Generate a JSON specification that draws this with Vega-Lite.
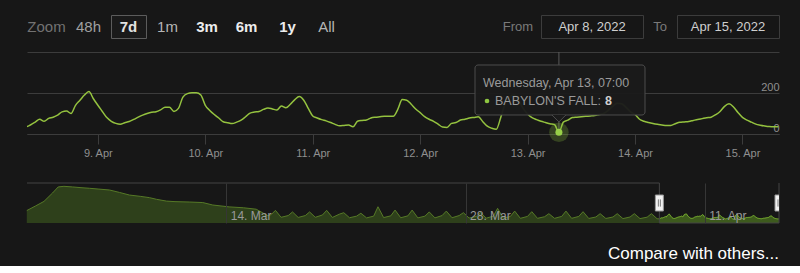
{
  "$schema": "https://vega.github.io/schema/vega-lite/v6.json",
  "background": "#171717",
  "padding": {"left": 24, "top": 14, "right": 24, "bottom": 4},
  "bounds": "flush",
  "spacing": 0,
  "config": {"font": "Liberation Sans", "view": {"stroke": null}},
  "datasets": {
    "hover": [{"t": "2022-04-13T07:00", "players": 8, "label": "BABYLON'S FALL:"}],
    "sel": [{"t": "2022-04-08T08:10"}],
    "handles": [{"t": "2022-04-08T08:10"}, {"t": "2022-04-15T08:10"}],
    "blank": [{"label": ""}],
    "players": [
      {"t":"2022-03-02T08:00","players":325},{"t":"2022-03-02T20:00","players":480},{"t":"2022-03-03T08:00","players":640},{"t":"2022-03-03T20:00","players":930},{"t":"2022-03-04T04:00","players":1140},{"t":"2022-03-04T12:00","players":1161},{"t":"2022-03-05T00:00","players":1140},{"t":"2022-03-05T12:00","players":1115},{"t":"2022-03-06T00:00","players":1093},{"t":"2022-03-06T12:00","players":1068},{"t":"2022-03-07T04:00","players":1034},{"t":"2022-03-07T18:00","players":950},{"t":"2022-03-08T08:00","players":860},{"t":"2022-03-09T00:00","players":812},{"t":"2022-03-09T12:00","players":770},{"t":"2022-03-09T22:00","players":712},{"t":"2022-03-10T12:00","players":650},{"t":"2022-03-11T00:00","players":632},{"t":"2022-03-11T20:00","players":619},{"t":"2022-03-12T15:00","players":600},{"t":"2022-03-13T05:00","players":515},{"t":"2022-03-14T04:00","players":450},{"t":"2022-03-15T00:00","players":420},{"t":"2022-03-15T18:00","players":370},{"t":"2022-03-16T10:00","players":150},{"t":"2022-03-16T15:00","players":180},{"t":"2022-03-16T21:00","players":330},
      {"t":"2022-03-17T05:00","players":90},{"t":"2022-03-17T15:00","players":150},{"t":"2022-03-17T21:00","players":275},
      {"t":"2022-03-18T05:00","players":85},{"t":"2022-03-18T15:00","players":150},{"t":"2022-03-18T21:00","players":275},
      {"t":"2022-03-19T05:00","players":90},{"t":"2022-03-19T15:00","players":170},{"t":"2022-03-19T21:00","players":330},
      {"t":"2022-03-20T05:00","players":85},{"t":"2022-03-20T15:00","players":200},{"t":"2022-03-20T21:00","players":250},
      {"t":"2022-03-21T05:00","players":75},{"t":"2022-03-21T15:00","players":130},{"t":"2022-03-21T21:00","players":230},
      {"t":"2022-03-22T05:00","players":70},{"t":"2022-03-22T15:00","players":130},{"t":"2022-03-22T21:00","players":455},
      {"t":"2022-03-23T05:00","players":80},{"t":"2022-03-23T15:00","players":140},{"t":"2022-03-23T21:00","players":340},
      {"t":"2022-03-24T05:00","players":75},{"t":"2022-03-24T15:00","players":140},{"t":"2022-03-24T21:00","players":340},
      {"t":"2022-03-25T05:00","players":70},{"t":"2022-03-25T15:00","players":130},{"t":"2022-03-25T21:00","players":275},
      {"t":"2022-03-26T05:00","players":70},{"t":"2022-03-26T15:00","players":150},{"t":"2022-03-26T21:00","players":305},
      {"t":"2022-03-27T05:00","players":75},{"t":"2022-03-27T15:00","players":150},{"t":"2022-03-27T21:00","players":250},
      {"t":"2022-03-28T05:00","players":65},{"t":"2022-03-28T15:00","players":120},{"t":"2022-03-28T21:00","players":260},
      {"t":"2022-03-29T05:00","players":60},{"t":"2022-03-29T15:00","players":130},{"t":"2022-03-29T21:00","players":400},
      {"t":"2022-03-30T05:00","players":60},{"t":"2022-03-30T15:00","players":120},{"t":"2022-03-30T21:00","players":305},
      {"t":"2022-03-31T05:00","players":55},{"t":"2022-03-31T15:00","players":120},{"t":"2022-03-31T21:00","players":285},
      {"t":"2022-04-01T05:00","players":55},{"t":"2022-04-01T15:00","players":110},{"t":"2022-04-01T21:00","players":215},
      {"t":"2022-04-02T05:00","players":55},{"t":"2022-04-02T15:00","players":120},{"t":"2022-04-02T21:00","players":305},
      {"t":"2022-04-03T05:00","players":55},{"t":"2022-04-03T15:00","players":120},{"t":"2022-04-03T21:00","players":285},
      {"t":"2022-04-04T05:00","players":50},{"t":"2022-04-04T15:00","players":100},{"t":"2022-04-04T21:00","players":215},
      {"t":"2022-04-05T05:00","players":50},{"t":"2022-04-05T15:00","players":100},{"t":"2022-04-05T21:00","players":215},
      {"t":"2022-04-06T05:00","players":45},{"t":"2022-04-06T15:00","players":100},{"t":"2022-04-06T21:00","players":215},
      {"t":"2022-04-07T05:00","players":45},{"t":"2022-04-07T15:00","players":95},{"t":"2022-04-07T21:00","players":215},
      {"t":"2022-04-08T05:00","players":40},
      {"t":"2022-04-08T08:00","players":36},{"t":"2022-04-08T09:00","players":45},{"t":"2022-04-08T10:00","players":58},{"t":"2022-04-08T11:00","players":72},{"t":"2022-04-08T12:00","players":62},{"t":"2022-04-08T13:00","players":76},{"t":"2022-04-08T14:00","players":82},{"t":"2022-04-08T15:00","players":92},{"t":"2022-04-08T16:00","players":108},{"t":"2022-04-08T17:00","players":112},{"t":"2022-04-08T18:00","players":100},{"t":"2022-04-08T19:00","players":140},{"t":"2022-04-08T20:00","players":165},{"t":"2022-04-08T21:00","players":190},{"t":"2022-04-08T22:00","players":207},{"t":"2022-04-08T23:00","players":172},
      {"t":"2022-04-09T00:00","players":140},{"t":"2022-04-09T01:00","players":110},{"t":"2022-04-09T02:00","players":80},{"t":"2022-04-09T03:00","players":62},{"t":"2022-04-09T04:00","players":52},{"t":"2022-04-09T05:00","players":48},{"t":"2022-04-09T06:00","players":55},{"t":"2022-04-09T07:00","players":61},{"t":"2022-04-09T08:00","players":71},{"t":"2022-04-09T09:00","players":82},{"t":"2022-04-09T10:00","players":92},{"t":"2022-04-09T11:00","players":100},{"t":"2022-04-09T12:00","players":106},{"t":"2022-04-09T13:00","players":109},{"t":"2022-04-09T14:00","players":118},{"t":"2022-04-09T15:00","players":130},{"t":"2022-04-09T16:00","players":130},{"t":"2022-04-09T17:00","players":110},{"t":"2022-04-09T18:00","players":125},{"t":"2022-04-09T19:00","players":180},{"t":"2022-04-09T20:00","players":197},{"t":"2022-04-09T21:00","players":201},{"t":"2022-04-09T22:00","players":201},{"t":"2022-04-09T23:00","players":190},
      {"t":"2022-04-10T00:00","players":140},{"t":"2022-04-10T01:00","players":115},{"t":"2022-04-10T02:00","players":95},{"t":"2022-04-10T03:00","players":78},{"t":"2022-04-10T04:00","players":60},{"t":"2022-04-10T05:00","players":55},{"t":"2022-04-10T06:00","players":51},{"t":"2022-04-10T07:00","players":58},{"t":"2022-04-10T08:00","players":68},{"t":"2022-04-10T09:00","players":84},{"t":"2022-04-10T10:00","players":102},{"t":"2022-04-10T11:00","players":107},{"t":"2022-04-10T12:00","players":110},{"t":"2022-04-10T13:00","players":120},{"t":"2022-04-10T14:00","players":127},{"t":"2022-04-10T15:00","players":122},{"t":"2022-04-10T16:00","players":117},{"t":"2022-04-10T17:00","players":137},{"t":"2022-04-10T18:00","players":128},{"t":"2022-04-10T19:00","players":145},{"t":"2022-04-10T20:00","players":168},{"t":"2022-04-10T21:00","players":183},{"t":"2022-04-10T22:00","players":165},{"t":"2022-04-10T23:00","players":125},
      {"t":"2022-04-11T00:00","players":88},{"t":"2022-04-11T01:00","players":78},{"t":"2022-04-11T02:00","players":70},{"t":"2022-04-11T03:00","players":64},{"t":"2022-04-11T04:00","players":56},{"t":"2022-04-11T05:00","players":47},{"t":"2022-04-11T06:00","players":40},{"t":"2022-04-11T07:00","players":42},{"t":"2022-04-11T08:00","players":44},{"t":"2022-04-11T09:00","players":35},{"t":"2022-04-11T10:00","players":62},{"t":"2022-04-11T11:00","players":66},{"t":"2022-04-11T12:00","players":68},{"t":"2022-04-11T13:00","players":78},{"t":"2022-04-11T14:00","players":82},{"t":"2022-04-11T15:00","players":84},{"t":"2022-04-11T16:00","players":86},{"t":"2022-04-11T17:00","players":86},{"t":"2022-04-11T18:00","players":86},{"t":"2022-04-11T19:00","players":120},{"t":"2022-04-11T20:00","players":168},{"t":"2022-04-11T21:00","players":165},{"t":"2022-04-11T22:00","players":145},{"t":"2022-04-11T23:00","players":122},
      {"t":"2022-04-12T00:00","players":104},{"t":"2022-04-12T01:00","players":85},{"t":"2022-04-12T02:00","players":72},{"t":"2022-04-12T03:00","players":62},{"t":"2022-04-12T04:00","players":48},{"t":"2022-04-12T05:00","players":34},{"t":"2022-04-12T06:00","players":32},{"t":"2022-04-12T07:00","players":52},{"t":"2022-04-12T08:00","players":56},{"t":"2022-04-12T09:00","players":68},{"t":"2022-04-12T10:00","players":72},{"t":"2022-04-12T11:00","players":78},{"t":"2022-04-12T12:00","players":81},{"t":"2022-04-12T13:00","players":84},{"t":"2022-04-12T14:00","players":60},{"t":"2022-04-12T15:00","players":38},{"t":"2022-04-12T16:00","players":28},{"t":"2022-04-12T17:00","players":23},{"t":"2022-04-12T18:00","players":80},{"t":"2022-04-12T19:00","players":150},{"t":"2022-04-12T20:00","players":180},{"t":"2022-04-12T21:00","players":190},{"t":"2022-04-12T22:00","players":165},{"t":"2022-04-12T23:00","players":125},
      {"t":"2022-04-13T00:00","players":98},{"t":"2022-04-13T01:00","players":80},{"t":"2022-04-13T02:00","players":70},{"t":"2022-04-13T03:00","players":62},{"t":"2022-04-13T04:00","players":56},{"t":"2022-04-13T05:00","players":50},{"t":"2022-04-13T06:00","players":46},{"t":"2022-04-13T07:00","players":8},{"t":"2022-04-13T08:00","players":58},{"t":"2022-04-13T09:00","players":68},{"t":"2022-04-13T10:00","players":80},{"t":"2022-04-13T11:00","players":82},{"t":"2022-04-13T12:00","players":84},{"t":"2022-04-13T13:00","players":86},{"t":"2022-04-13T14:00","players":88},{"t":"2022-04-13T15:00","players":90},{"t":"2022-04-13T16:00","players":95},{"t":"2022-04-13T17:00","players":100},{"t":"2022-04-13T18:00","players":115},{"t":"2022-04-13T19:00","players":135},{"t":"2022-04-13T20:00","players":150},{"t":"2022-04-13T21:00","players":148},{"t":"2022-04-13T22:00","players":130},{"t":"2022-04-13T23:00","players":108},
      {"t":"2022-04-14T00:00","players":95},{"t":"2022-04-14T01:00","players":72},{"t":"2022-04-14T02:00","players":62},{"t":"2022-04-14T03:00","players":56},{"t":"2022-04-14T04:00","players":51},{"t":"2022-04-14T05:00","players":47},{"t":"2022-04-14T06:00","players":44},{"t":"2022-04-14T07:00","players":41},{"t":"2022-04-14T08:00","players":42},{"t":"2022-04-14T09:00","players":50},{"t":"2022-04-14T10:00","players":57},{"t":"2022-04-14T11:00","players":59},{"t":"2022-04-14T12:00","players":61},{"t":"2022-04-14T13:00","players":66},{"t":"2022-04-14T14:00","players":71},{"t":"2022-04-14T15:00","players":75},{"t":"2022-04-14T16:00","players":79},{"t":"2022-04-14T17:00","players":82},{"t":"2022-04-14T18:00","players":94},{"t":"2022-04-14T19:00","players":110},{"t":"2022-04-14T20:00","players":135},{"t":"2022-04-14T21:00","players":147},{"t":"2022-04-14T22:00","players":132},{"t":"2022-04-14T23:00","players":105},
      {"t":"2022-04-15T00:00","players":81},{"t":"2022-04-15T01:00","players":68},{"t":"2022-04-15T02:00","players":58},{"t":"2022-04-15T03:00","players":48},{"t":"2022-04-15T04:00","players":43},{"t":"2022-04-15T05:00","players":39},{"t":"2022-04-15T06:00","players":36},{"t":"2022-04-15T07:00","players":35},{"t":"2022-04-15T08:00","players":35}
    ]
  },
  "vconcat": [
    {
      "bounds": "flush",
      "spacing": 0,
      "hconcat": [
        {"width": 39, "height": 23, "data": {"values": [{"label": "Zoom"}]}, "mark": {"type": "text", "fontSize": 15, "color": "#727272"}, "encoding": {"text": {"field": "label", "type": "nominal"}}},
        {"width": 45, "height": 23, "data": {"values": [{"label": "48h"}]}, "mark": {"type": "text", "fontSize": 15, "color": "#a0a0a0"}, "encoding": {"text": {"field": "label", "type": "nominal"}}},
        {"width": 35, "height": 23, "view": {"stroke": "#5c5c5c", "strokeWidth": 1, "fill": "#1a1a1a"}, "data": {"values": [{"label": "7d"}]}, "mark": {"type": "text", "fontSize": 15, "fontWeight": "bold", "color": "#e2e2e2"}, "encoding": {"text": {"field": "label", "type": "nominal"}}},
        {"width": 43, "height": 23, "data": {"values": [{"label": "1m"}]}, "mark": {"type": "text", "fontSize": 15, "color": "#b5b5b5"}, "encoding": {"text": {"field": "label", "type": "nominal"}}},
        {"width": 36, "height": 23, "data": {"values": [{"label": "3m"}]}, "mark": {"type": "text", "fontSize": 15, "fontWeight": "bold", "color": "#ececec"}, "encoding": {"text": {"field": "label", "type": "nominal"}}},
        {"width": 43, "height": 23, "data": {"values": [{"label": "6m"}]}, "mark": {"type": "text", "fontSize": 15, "fontWeight": "bold", "color": "#ececec"}, "encoding": {"text": {"field": "label", "type": "nominal"}}},
        {"width": 39, "height": 23, "data": {"values": [{"label": "1y"}]}, "mark": {"type": "text", "fontSize": 15, "fontWeight": "bold", "color": "#ececec"}, "encoding": {"text": {"field": "label", "type": "nominal"}}},
        {"width": 39, "height": 23, "data": {"values": [{"label": "All"}]}, "mark": {"type": "text", "fontSize": 15, "color": "#b5b5b5"}, "encoding": {"text": {"field": "label", "type": "nominal"}}},
        {"width": 149, "height": 23, "data": {"name": "blank"}, "mark": {"type": "text", "fontSize": 15}, "encoding": {"text": {"field": "label", "type": "nominal"}}},
        {"width": 46, "height": 23, "data": {"values": [{"label": "From"}]}, "mark": {"type": "text", "fontSize": 13, "color": "#7a7a7a"}, "encoding": {"text": {"field": "label", "type": "nominal"}}},
        {"width": 102, "height": 23, "view": {"stroke": "#3c3c3c", "strokeWidth": 1, "fill": "#161616"}, "data": {"values": [{"label": "Apr 8, 2022"}]}, "mark": {"type": "text", "fontSize": 13, "color": "#cfcfcf"}, "encoding": {"text": {"field": "label", "type": "nominal"}}},
        {"width": 34, "height": 23, "data": {"values": [{"label": "To"}]}, "mark": {"type": "text", "fontSize": 13, "color": "#7a7a7a"}, "encoding": {"text": {"field": "label", "type": "nominal"}}},
        {"width": 102, "height": 23, "view": {"stroke": "#3c3c3c", "strokeWidth": 1, "fill": "#161616"}, "data": {"values": [{"label": "Apr 15, 2022"}]}, "mark": {"type": "text", "fontSize": 13, "color": "#cfcfcf"}, "encoding": {"text": {"field": "label", "type": "nominal"}}}
      ]
    },
    {"width": 752, "height": 37, "data": {"name": "blank"}, "mark": {"type": "text"}, "encoding": {"text": {"field": "label", "type": "nominal"}}},
    {
      "width": 752,
      "height": 82,
      "encoding": {
        "x": {
          "field": "t", "type": "temporal",
          "scale": {"domain": [{"year": 2022, "month": "apr", "date": 8, "hours": 8, "minutes": 10}, {"year": 2022, "month": "apr", "date": 15, "hours": 8, "minutes": 10}]},
          "axis": {"title": null, "orient": "bottom", "format": "%-d. %b", "tickCount": {"interval": "day", "step": 1}, "labelColor": "#8f8f8f", "labelFontSize": 11, "labelPadding": 3, "tickColor": "#3c3c3c", "tickSize": 10, "domainColor": "#3c3c3c", "grid": false, "labelFlush": false, "labelOverlap": false}
        }
      },
      "layer": [
        {"data": {"name": "hover"}, "mark": {"type": "rule", "color": "#5a5a5a", "strokeWidth": 1}, "encoding": {}},
        {
          "data": {"name": "players"},
          "mark": {"type": "line", "color": "#94c23f", "strokeWidth": 1.5, "clip": true, "interpolate": "monotone"},
          "encoding": {
            "y": {"field": "players", "type": "quantitative", "scale": {"domain": [0, 400], "nice": false},
              "axis": {"title": null, "orient": "right", "values": [0, 200, 400], "grid": true, "gridColor": "#3c3c3c", "domain": false, "ticks": false, "tickSize": 0, "labelAlign": "right", "labelBaseline": "alphabetic", "labelPadding": 0, "labelOffset": -3, "labelColor": "#8f8f8f", "labelFontSize": 11, "labelFlush": false, "labelExpr": "datum.value == 400 ? '' : datum.label"}}
          }
        },
        {"data": {"name": "hover"}, "mark": {"type": "point", "filled": true, "size": 380, "color": "#8ec641", "opacity": 0.25}, "encoding": {"y": {"field": "players", "type": "quantitative", "scale": {"domain": [0, 400], "nice": false}, "axis": {"title": null}}}},
        {"data": {"name": "hover"}, "mark": {"type": "point", "filled": true, "size": 49, "color": "#98d048", "opacity": 1}, "encoding": {"y": {"field": "players", "type": "quantitative", "scale": {"domain": [0, 400], "nice": false}, "axis": {"title": null}}}},
        {
          "data": {"name": "hover"},
          "mark": {"type": "rect", "fill": "#1b1b1b", "fillOpacity": 0.96, "stroke": "#4d4d4d", "strokeWidth": 1, "cornerRadius": 3},
          "encoding": {
            "x": {"datum": {"year": 2022, "month": "apr", "date": 12, "hours": 12, "minutes": 15}, "type": "temporal"},
            "x2": {"datum": {"year": 2022, "month": "apr", "date": 14, "hours": 2, "minutes": 14}},
            "y": {"datum": 336.6, "type": "quantitative"},
            "y2": {"datum": 92.7}
          }
        },
        {
          "data": {"name": "hover"},
          "mark": {"type": "point", "shape": "M-1,0L0,1L1,0", "size": 196, "filled": true, "fill": "#1b1b1b", "stroke": "#4d4d4d", "strokeWidth": 1, "opacity": 1},
          "encoding": {"y": {"datum": 92.9, "type": "quantitative"}}
        },
        {
          "data": {"name": "hover"},
          "mark": {"type": "text", "align": "left", "baseline": "middle", "fontSize": 12.5, "color": "#9a9a9a"},
          "encoding": {
            "x": {"datum": {"year": 2022, "month": "apr", "date": 12, "hours": 14, "minutes": 3}, "type": "temporal"},
            "y": {"datum": 248.8, "type": "quantitative"},
            "text": {"field": "t", "type": "temporal", "format": "%A, %b %-d, %H:%M"}
          }
        },
        {
          "data": {"name": "hover"},
          "mark": {"type": "point", "filled": true, "size": 22, "color": "#8ec641", "opacity": 1},
          "encoding": {
            "x": {"datum": {"year": 2022, "month": "apr", "date": 12, "hours": 14, "minutes": 56}, "type": "temporal"},
            "y": {"datum": 161, "type": "quantitative"}
          }
        },
        {
          "data": {"name": "hover"},
          "mark": {"type": "text", "align": "left", "baseline": "middle", "fontSize": 12.5, "color": "#9a9a9a"},
          "encoding": {
            "x": {"datum": {"year": 2022, "month": "apr", "date": 12, "hours": 16, "minutes": 43}, "type": "temporal"},
            "y": {"datum": 161, "type": "quantitative"},
            "text": {"field": "label", "type": "nominal"}
          }
        },
        {
          "data": {"name": "hover"},
          "mark": {"type": "text", "align": "left", "baseline": "middle", "fontSize": 12.5, "fontWeight": "bold", "color": "#cfcfcf"},
          "encoding": {
            "x": {"datum": {"year": 2022, "month": "apr", "date": 13, "hours": 17, "minutes": 18}, "type": "temporal"},
            "y": {"datum": 161, "type": "quantitative"},
            "text": {"field": "players", "type": "quantitative"}
          }
        }
      ]
    },
    {"width": 752, "height": 49, "data": {"name": "blank"}, "mark": {"type": "text"}, "encoding": {"text": {"field": "label", "type": "nominal"}}},
    {
      "width": 752,
      "height": 40,
      "title": {"text": "Compare with others...", "orient": "bottom", "anchor": "end", "frame": "group", "offset": 21, "fontSize": 17, "fontWeight": "normal", "color": "#ffffff", "font": "Liberation Sans"},
      "encoding": {
        "x": {
          "field": "t", "type": "temporal",
          "scale": {"domain": [{"year": 2022, "month": "mar", "date": 2, "hours": 8, "minutes": 10}, {"year": 2022, "month": "apr", "date": 15, "hours": 8, "minutes": 10}]},
          "axis": {"title": null, "values": [{"year": 2022, "month": "mar", "date": 14}, {"year": 2022, "month": "mar", "date": 28}, {"year": 2022, "month": "apr", "date": 11}], "format": "%-d. %b", "grid": true, "gridColor": "#363636", "domain": false, "ticks": false, "tickSize": 0, "labelAlign": "left", "labelBaseline": "alphabetic", "labelPadding": -4, "labelOffset": 4, "labelColor": "#9a9a9a", "labelFontSize": 12, "labelFlush": false, "labelOverlap": false, "zindex": 1}
        }
      },
      "layer": [
        {
          "data": {"name": "players"},
          "mark": {"type": "area", "color": "#3d5a1d", "opacity": 1, "line": {"color": "#7cb530", "strokeWidth": 1}},
          "encoding": {
            "y": {"field": "players", "type": "quantitative", "scale": {"domain": [-107, 1276], "nice": false, "zero": false}, "axis": null},
            "y2": {"datum": -107}
          }
        },
        {
          "data": {"name": "sel"},
          "mark": {"type": "rect", "color": "#171717", "opacity": 0.38},
          "encoding": {
            "x2": {"datum": {"year": 2022, "month": "mar", "date": 2, "hours": 8, "minutes": 10}},
            "y": {"datum": 1276, "type": "quantitative"},
            "y2": {"datum": -107}
          }
        },
        {
          "data": {"name": "sel"},
          "mark": {"type": "rule", "color": "#444444", "strokeWidth": 1},
          "encoding": {
            "x2": {"datum": {"year": 2022, "month": "mar", "date": 2, "hours": 8, "minutes": 10}},
            "y": {"datum": 1276, "type": "quantitative"}
          }
        },
        {
          "data": {"name": "handles"},
          "mark": {"type": "rule", "color": "#444444", "strokeWidth": 1},
          "encoding": {}
        },
        {
          "data": {"name": "handles"},
          "mark": {"type": "line", "color": "#444444", "strokeWidth": 1},
          "encoding": {"y": {"datum": -107, "type": "quantitative"}}
        },
        {
          "data": {"name": "handles"},
          "mark": {"type": "point", "shape": "M-0.5,-1H0.5V1H-0.5Z", "size": 256, "filled": true, "fill": "#f2f2f2", "stroke": "#999999", "strokeWidth": 1, "opacity": 1, "clip": true},
          "encoding": {"y": {"datum": 584.5, "type": "quantitative"}}
        },
        {
          "data": {"name": "handles"},
          "mark": {"type": "point", "shape": "M-0.125,-0.45V0.45M0.125,-0.45V0.45", "size": 256, "filled": false, "stroke": "#7a7a7a", "strokeWidth": 1, "opacity": 1, "clip": true},
          "encoding": {"y": {"datum": 584.5, "type": "quantitative"}}
        }
      ]
    }
  ]
}
